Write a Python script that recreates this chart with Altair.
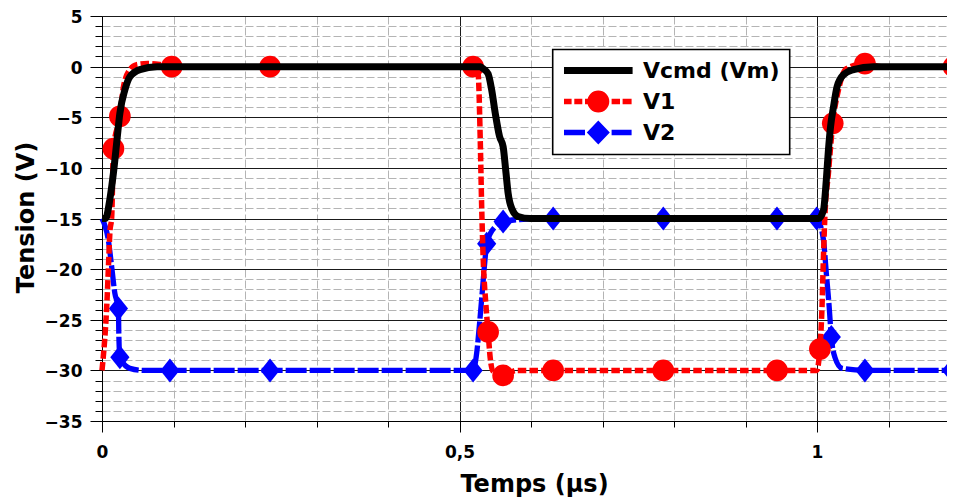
import math
import altair as alt
import pandas as pd

FONT = "DejaVu Sans"

# ---------------- data ----------------
SERIES = ["Vcmd (Vm)", "V1", "V2"]
COLORS = ["#000000", "#ff0000", "#0000ff"]

vcmd_t = [0, 0.005, 0.011, 0.016, 0.021, 0.025, 0.032, 0.039, 0.053, 0.077,
          0.529, 0.533, 0.540, 0.545, 0.550, 0.556, 0.561, 0.565, 0.568, 0.573, 0.582, 0.599,
          1.002, 1.009, 1.013, 1.016, 1.019, 1.023, 1.028, 1.037, 1.051, 1.079, 1.193]
vcmd_v = [-15, -15, -13.1, -10.5, -7.2, -4.6, -2.3, -1.0, -0.3, 0,
          0, -0.2, -0.7, -2.3, -4.6, -6.9, -7.9, -10.5, -12.5, -14.0, -14.8, -15,
          -15, -14.2, -11.2, -8.2, -5.9, -4.0, -2.0, -0.8, -0.3, 0, 0]

v1_t = [0, 0.007, 0.009, 0.011, 0.0136, 0.016, 0.025, 0.030, 0.039, 0.0485, 0.064, 0.081, 0.0975,
        0.235, 0.519, 0.526, 0.529, 0.531, 0.533, 0.537, 0.540, 0.543, 0.547, 0.561, 0.580,
        0.631, 0.785, 0.944, 0.9995, 1.004, 1.007, 1.009, 1.011, 1.016, 1.022, 1.030, 1.041,
        1.067, 1.09, 1.193]
v1_v = [-30, -23.1, -19.8, -16.4, -14.8, -8.1, -4.9, -2.0, -0.3, 0.2, 0.3, 0.2, 0,
        0, 0, -0.7, -7.2, -13.8, -18.7, -23.6, -26.2, -28.8, -30.1, -30.5, -30,
        -30, -30, -30, -30, -27.9, -23.7, -18.8, -14.8, -10.5, -5.6, -2.3, -0.2,
        0.3, 0, 0]

v2_t = [0, 0.009, 0.0136, 0.018, 0.023, 0.0235, 0.025, 0.039, 0.058, 0.095,
        0.235, 0.519, 0.524, 0.528, 0.532, 0.536, 0.538, 0.543, 0.550, 0.561, 0.584,
        0.631, 0.785, 0.944, 0.9995, 1.009, 1.013, 1.017, 1.020, 1.025, 1.035,
        1.067, 1.188, 1.193]
v2_v = [-15, -17.2, -19.8, -22.4, -23.9, -26.3, -28.7, -29.8, -30, -30,
        -30, -30, -28.3, -25.4, -22.1, -18.8, -17.5, -16.5, -15.8, -15.3, -15.1,
        -15, -15, -15, -15, -17.1, -20.4, -23.7, -26.7, -28.7, -29.8,
        -30, -30, -30]

v1_mark_t = [0.016, 0.025, 0.0975, 0.235, 0.519, 0.540, 0.561, 0.631, 0.785, 0.944, 1.004, 1.022, 1.067, 1.191]
v1_mark_v = [-8.1, -4.9, 0, 0, 0, -26.2, -30.5, -30, -30, -30, -27.9, -5.6, 0.3, 0]

v2_mark_t = [0.023, 0.025, 0.095, 0.235, 0.519, 0.538, 0.561, 0.631, 0.785, 0.944, 0.9995, 1.020, 1.067, 1.188]
v2_mark_v = [-23.9, -28.7, -30, -30, -30, -17.5, -15.3, -15, -15, -15, -15, -26.7, -30, -30]

x_ticks = [0, 0.1, 0.2, 0.3, 0.4, 0.5, 0.6, 0.7, 0.8, 0.9, 1.0, 1.1]
y_ticks = list(range(-35, 6))
x_domain = [0, 1.1818]
y_domain = [-35, 5]

# ---------------- tables ----------------
lines_df = pd.concat([
    pd.DataFrame({"t": vcmd_t, "v": vcmd_v, "serie": SERIES[0]}),
    pd.DataFrame({"t": v1_t, "v": v1_v, "serie": SERIES[1]}),
    pd.DataFrame({"t": v2_t, "v": v2_v, "serie": SERIES[2]}),
], ignore_index=True)

marks_df = pd.concat([
    pd.DataFrame({"t": v1_mark_t, "v": v1_mark_v, "serie": SERIES[1]}),
    pd.DataFrame({"t": v2_mark_t, "v": v2_mark_v, "serie": SERIES[2]}),
], ignore_index=True)

legend_df = pd.DataFrame({"serie": SERIES})

# ---------------- axes ----------------
MAJOR_X = "abs(datum.value*2 - round(datum.value*2)) < 0.001"
MAJOR_Y = "datum.value % 5 === 0"

x_axis = alt.Axis(
    values=x_ticks, format="~g",
    labelExpr=MAJOR_X + " ? replace(datum.label, '.', ',') : ''",
    labelFont=FONT, labelFontSize=17, labelFontWeight="bold", labelColor="black",
    labelPadding=12, labelOverlap=False, labelFlush=False,
    tickSize=11, tickColor="black", tickWidth=1,
    tickDash={"condition": {"test": MAJOR_X, "value": []}, "value": [6, 100]},
    grid=True,
    gridColor={"condition": {"test": MAJOR_X, "value": "#1a1a1a"}, "value": "#b4b4b4"},
    gridDash={"condition": {"test": MAJOR_X, "value": []}, "value": [8, 3]},
    gridWidth=1,
    domainColor="black", domainWidth=1,
    title="Temps (µs)", titleFont=FONT, titleFontSize=24, titleFontWeight="bold",
    titleColor="black", titleX=432, titleY=70, titleBaseline="alphabetic", titleAlign="center",
)

y_axis = alt.Axis(
    values=y_ticks, format="d",
    labelExpr=MAJOR_Y + " ? datum.label : ''",
    labelFont=FONT, labelFontSize=17, labelFontWeight="bold", labelColor="black",
    labelPadding=8, labelOffset=1.5, labelOverlap=False, labelFlush=False,
    tickSize=12, tickColor="black", tickWidth=1,
    tickDash={"condition": {"test": MAJOR_Y, "value": []}, "value": [7, 100]},
    grid=True,
    gridColor={"condition": {"test": MAJOR_Y, "value": "#1a1a1a"}, "value": "#b4b4b4"},
    gridDash={"condition": {"test": MAJOR_Y, "value": []}, "value": [8, 3]},
    gridWidth=1,
    domainColor="black", domainWidth=1,
    title="Tension (V)", titleFont=FONT, titleFontSize=24, titleFontWeight="bold",
    titleColor="black", titleX=-69, titleY=201, titleAngle=270,
    titleBaseline="alphabetic", titleAlign="center",
)

X = alt.X("t:Q", scale=alt.Scale(domain=x_domain, nice=False, zero=False), axis=x_axis)
Y = alt.Y("v:Q", scale=alt.Scale(domain=y_domain, nice=False, zero=False), axis=y_axis)

# ---------------- legend symbols (filled glyphs: line segments + marker) ----------------
def rect(x1, x2, h):
    return f"M{x1},{-h}L{x2},{-h}L{x2},{h}L{x1},{h}Z"

def polygon_circle(r, n=32):
    pts = [(r * math.cos(2 * math.pi * k / n), r * math.sin(2 * math.pi * k / n)) for k in range(n)]
    return "M" + "L".join(f"{x:.3f},{y:.3f}" for x, y in pts) + "Z"

EXTENT = "M0,-1.2M0,1.2"  # same vertical extent for every entry
LEGEND_PATHS = [
    EXTENT + rect(-3.43, 3.43, 0.35),
    EXTENT + rect(-3.43, -2.67, 0.27) + rect(-2.4, -1.6, 0.27) + rect(-1.33, -0.9, 0.27)
    + rect(1.33, 2.17, 0.27) + rect(2.43, 3.33, 0.27) + polygon_circle(1.1),
    EXTENT + rect(-3.43, -1.33, 0.27) + rect(1.33, 3.33, 0.27) + "M-1.15,0L0,-1.2L1.15,0L0,1.2Z",
]
DIAMOND = "M-0.8,0L0,-1L0.8,0L0,1Z"

legend = alt.Legend(
    title=None, orient="none", legendX=450.7, legendY=33.5, padding=10,
    strokeColor="black", fillColor="white", cornerRadius=0,
    labelFont=FONT, labelFontSize=22, labelFontWeight="bold", labelColor="black",
    symbolSize=400, symbolStrokeWidth=0, symbolOffset=24.6, labelOffset=33.7,
    rowPadding=7, symbolOpacity=1,
)

base_lines = alt.Chart(lines_df)
base_marks = alt.Chart(marks_df)

v2_line = base_lines.transform_filter(alt.datum.serie == SERIES[2]).mark_line(
    color=COLORS[2], strokeWidth=5.3, strokeDash=[21, 3], interpolate="monotone"
).encode(x=X, y=Y)
v2_pts = base_marks.transform_filter(alt.datum.serie == SERIES[2]).mark_point(
    shape=DIAMOND, filled=True, size=576, color=COLORS[2], opacity=1, strokeWidth=0
).encode(x=X, y=Y)
v1_line = base_lines.transform_filter(alt.datum.serie == SERIES[1]).mark_line(
    color=COLORS[1], strokeWidth=5.5, strokeDash=[8.5, 3.2], interpolate="monotone"
).encode(x=X, y=Y)
v1_pts = base_marks.transform_filter(alt.datum.serie == SERIES[1]).mark_point(
    shape="circle", filled=True, size=470, color=COLORS[1], opacity=1, strokeWidth=0
).encode(x=X, y=Y)
vcmd_line = base_lines.transform_filter(alt.datum.serie == SERIES[0]).mark_line(
    color=COLORS[0], strokeWidth=7, interpolate="monotone"
).encode(x=X, y=Y)

legend_layer = alt.Chart(legend_df).mark_point(opacity=0, filled=True).encode(
    fill=alt.Fill("serie:N", scale=alt.Scale(domain=SERIES, range=COLORS), legend=legend),
    shape=alt.Shape("serie:N", scale=alt.Scale(domain=SERIES, range=LEGEND_PATHS), legend=legend),
)

chart = alt.layer(
    v2_line, v2_pts, v1_line, v1_pts, vcmd_line, legend_layer
).properties(
    width=845, height=405,
    autosize=alt.AutoSizeParams(type="none"),
    padding={"left": 94, "top": 8, "right": 0, "bottom": 84},
    background="white",
).configure_view(stroke=None).configure_legend(strokeWidth=1.6)

chart.save("out.html", embed_options={"renderer": "svg", "actions": False})
